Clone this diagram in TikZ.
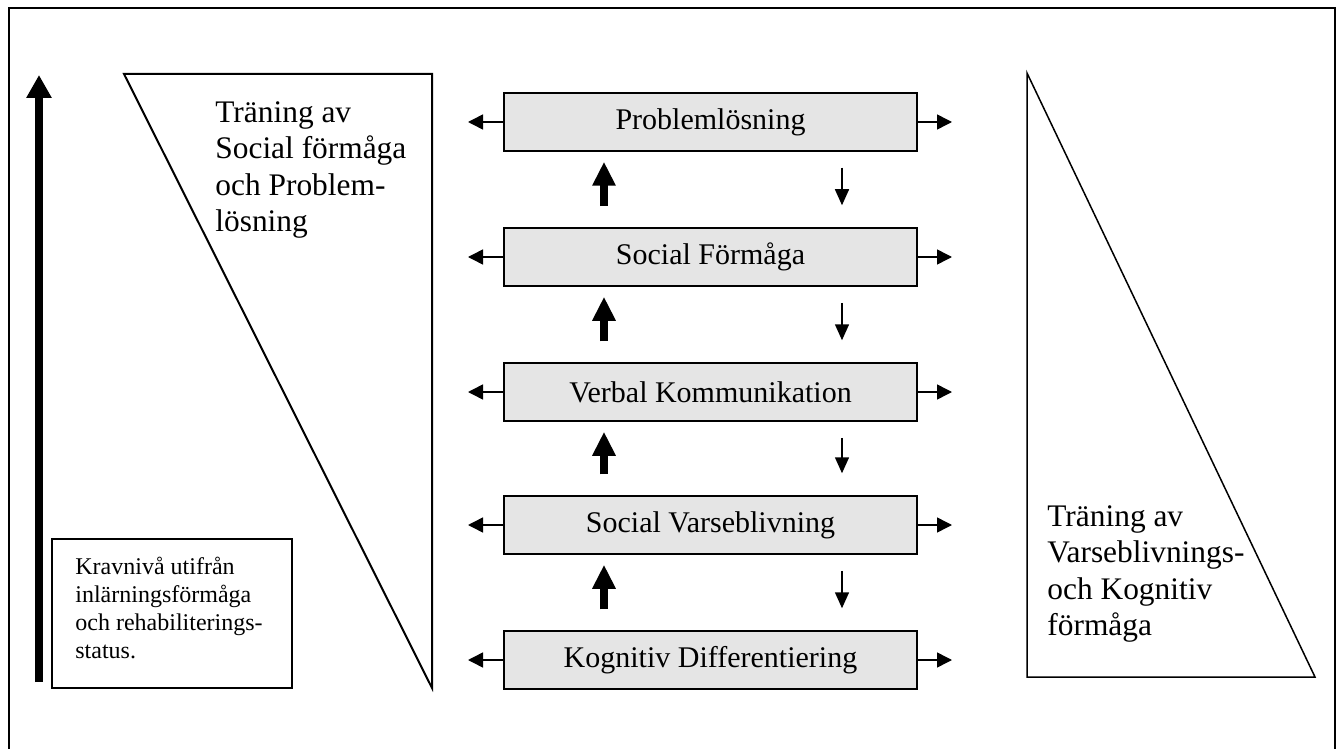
\documentclass[tikz,border=0pt]{standalone}
\usepackage{fontspec}
\setmainfont{Liberation Serif}
\usetikzlibrary{arrows.meta}
\begin{document}
\begin{tikzpicture}[x=0.5pt,y=-0.5pt,
  stagebox/.style={draw, line width=0.75pt, fill=black!10, minimum width=206.5pt, minimum height=29pt, inner sep=0pt, font=\fontsize{15}{18}\selectfont},
  sidearrow/.style={line width=0.75pt, -{Triangle[length=7.5pt,width=7.5pt]}},
  uparrow/.style={line width=4pt, -{Triangle[length=12pt,width=11pt]}, shorten <=10.5pt, shorten >=5pt},
  downarrow/.style={line width=0.75pt, -{Triangle[length=8pt,width=7pt]}, shorten <=8pt, shorten >=11pt},
  bigtext/.style={align=left, inner sep=0pt, anchor=north west, font=\fontsize{15.7}{18.25}\selectfont},
  smalltext/.style={align=left, inner sep=0pt, anchor=north west, font=\fontsize{12}{14}\selectfont},
  outline/.style={line width=1pt, line join=miter},
]
\useasboundingbox (0,0) rectangle (1340,749);
% outer frame
\draw[line width=0.75pt] (9,749) -- (9,8) -- (1335,8) -- (1335,749);

% central stages
\node[stagebox] (p)  at (710.5,122) {Problemlösning};
\node[stagebox] (s)  at (710.5,257) {Social Förmåga};
\node[stagebox] (v)  at (710.5,392) {Verbal Kommunikation};
\node[stagebox] (sv) at (710.5,525) {Social Varseblivning};
\node[stagebox] (k)  at (710.5,660) {Kognitiv Differentiering};

% side arrows
\foreach \n/\y in {p/122, s/257, v/392, sv/525, k/660}{
  \coordinate (\n-l) at (468,\y);
  \coordinate (\n-r) at (952,\y);
  \draw[sidearrow] (\n.west) -- (\n-l);
  \draw[sidearrow] (\n.east) -- (\n-r);
}

% vertical arrows between stages
\coordinate (upx) at (604,0);
\coordinate (dnx) at (842,0);
\foreach \lo/\hi in {s/p, v/s, sv/v, k/sv}{
  \draw[uparrow] (\lo.north -| upx) -- (\hi.south -| upx);
  \draw[downarrow] (\hi.south -| dnx) -- (\lo.north -| dnx);
}

% big left arrow
\coordinate (ab) at (39,682);
\coordinate (at) at (39,75);
\draw[line width=4pt, -{Triangle[length=11.5pt,width=12pt]}] (ab) -- (at);

% left triangle
\draw[outline] (124,74) -- (432,74) -- (432,688) -- cycle;
\node[bigtext] (lt) at (215,101) {Träning av\\Social förmåga\\och Problem-\\lösning};

% right triangle
\draw[line width=0.75pt, line join=miter] (1027,73) -- (1027,677) -- (1315,677) -- cycle;
\node[bigtext] (rt) at (1047,505) {Träning av\\Varseblivnings-\\och Kognitiv\\förmåga};

% small box
\draw[outline] (52,539) rectangle (292,688);
\node[smalltext] (kt) at (75,557) {Kravnivå utifrån\\inlärningsförmåga\\och rehabiliterings-\\status.};
\end{tikzpicture}
\end{document}
